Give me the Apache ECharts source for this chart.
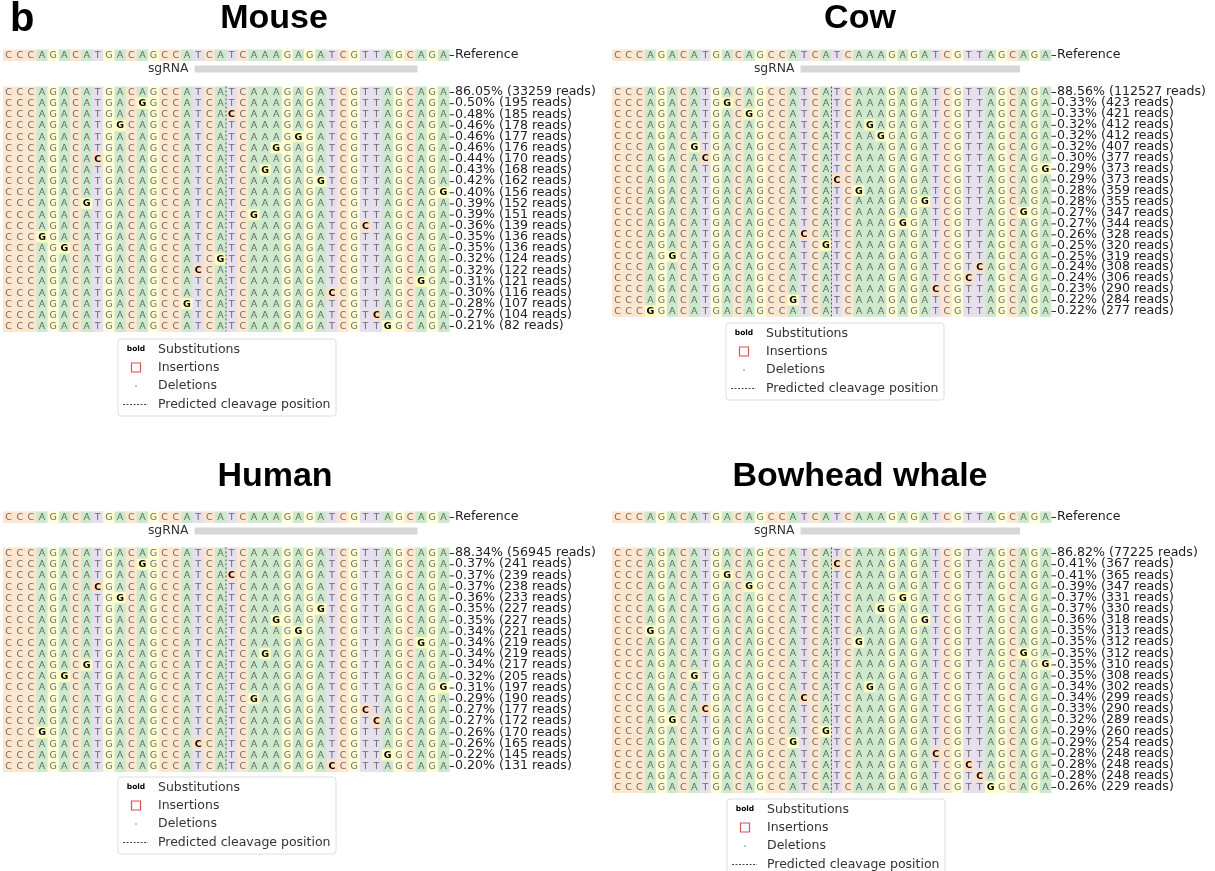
<!DOCTYPE html>
<html>
<head>
<meta charset="utf-8">
<script src="https://cdn.jsdelivr.net/npm/echarts@6/dist/echarts.min.js"></script>
<style>
  html, body { margin: 0; padding: 0; background: #fff; }
  #chart { width: 1215px; height: 871px; }
</style>
</head>
<body>
<div id="chart"></div>
<script>
// reference amplicon window, sgRNA span and predicted cut (in nt positions)
const REFERENCE = 'CCCAGACATGACAGCCATCATCAAAGAGATCGTTAGCAGA';
const SGRNA_RANGE = [17, 37];
const CUT_POS = 20;

// mouse
const mousePct = [86.05, 0.50, 0.48, 0.46, 0.46, 0.46, 0.44, 0.43, 0.42, 0.40, 0.39, 0.39, 0.36, 0.35, 0.35, 0.32, 0.32, 0.31, 0.30, 0.28, 0.27, 0.21];
const mouseReads = [33259, 195, 185, 178, 177, 176, 170, 168, 162, 156, 152, 151, 139, 136, 136, 124, 122, 121, 116, 107, 104, 82];
const mouseSubs = [null, [12, 'G'], [20, 'C'], [10, 'G'], [26, 'G'], [24, 'G'], [8, 'C'], [23, 'G'], [28, 'G'], [39, 'G'], [7, 'G'],
  [22, 'G'], [32, 'C'], [3, 'G'], [5, 'G'], [19, 'G'], [17, 'C'], [37, 'G'], [29, 'C'], [16, 'G'], [33, 'C'], [34, 'G']];

// cow
const cowPct = [88.56, 0.33, 0.33, 0.32, 0.32, 0.32, 0.30, 0.29, 0.29, 0.28, 0.28, 0.27, 0.27, 0.26, 0.25, 0.25, 0.24, 0.24, 0.23, 0.22, 0.22];
const cowReads = [112527, 423, 421, 412, 412, 407, 377, 373, 373, 359, 355, 347, 344, 328, 320, 319, 308, 306, 290, 284, 277];
const cowSubs = [null, [10, 'G'], [12, 'G'], [23, 'G'], [24, 'G'], [7, 'G'], [8, 'C'], [39, 'G'], [20, 'C'], [22, 'G'], [28, 'G'],
  [37, 'G'], [26, 'G'], [17, 'C'], [19, 'G'], [5, 'G'], [33, 'C'], [32, 'C'], [29, 'C'], [16, 'G'], [3, 'G']];

// human
const humanPct = [88.34, 0.37, 0.37, 0.37, 0.36, 0.35, 0.35, 0.34, 0.34, 0.34, 0.34, 0.32, 0.31, 0.29, 0.27, 0.27, 0.26, 0.26, 0.22, 0.20];
const humanReads = [56945, 241, 239, 238, 233, 227, 227, 221, 219, 219, 217, 205, 197, 190, 177, 172, 170, 165, 145, 131];
const humanSubs = [null, [12, 'G'], [20, 'C'], [8, 'C'], [10, 'G'], [28, 'G'], [24, 'G'], [26, 'G'], [37, 'G'], [23, 'G'], [7, 'G'],
  [5, 'G'], [39, 'G'], [22, 'G'], [32, 'C'], [33, 'C'], [3, 'G'], [17, 'C'], [34, 'G'], [29, 'C']];

// bowhead whale
const whalePct = [86.82, 0.41, 0.41, 0.39, 0.37, 0.37, 0.36, 0.35, 0.35, 0.35, 0.35, 0.35, 0.34, 0.34, 0.33, 0.32, 0.29, 0.29, 0.28, 0.28, 0.28, 0.26];
const whaleReads = [77225, 367, 365, 347, 331, 330, 318, 313, 312, 312, 310, 308, 302, 299, 290, 289, 260, 254, 248, 248, 248, 229];
const whaleSubs = [null, [20, 'C'], [10, 'G'], [12, 'G'], [26, 'G'], [24, 'G'], [28, 'G'], [3, 'G'], [22, 'G'], [37, 'G'], [39, 'G'],
  [7, 'G'], [23, 'G'], [17, 'C'], [8, 'C'], [5, 'G'], [19, 'G'], [16, 'G'], [29, 'C'], [32, 'C'], [33, 'C'], [34, 'G']];

const BASE_COLORS = { A: '#cce9cc', T: '#e5dfee', C: '#fee6ce', G: '#ffffd6' };
const SUB_COLORS = { A: '#bfe3bf', T: '#ddd5ea', C: '#fedfc2', G: '#ffffc2' };
const FONT = '"DejaVu Sans", "Noto Sans", sans-serif';

// layout of the 4 panels
const panels = [
  { title: 'Mouse', pct: mousePct, reads: mouseReads, subs: mouseSubs, left: 3, right: 449,
    refY: 55, sgY: 69, rowFirst: 92, rowLast: 326, titleX: 274, titleTop: 2, legend: [118, 339] },
  { title: 'Cow', pct: cowPct, reads: cowReads, subs: cowSubs, left: 612, right: 1051,
    refY: 55, sgY: 69, rowFirst: 92, rowLast: 311, titleX: 860, titleTop: 2, legend: [726, 323] },
  { title: 'Human', pct: humanPct, reads: humanReads, subs: humanSubs, left: 3, right: 449,
    refY: 517, sgY: 531, rowFirst: 553, rowLast: 766, titleX: 275, titleTop: 460, legend: [118, 777] },
  { title: 'Bowhead whale', pct: whalePct, reads: whaleReads, subs: whaleSubs, left: 612, right: 1051,
    refY: 517, sgY: 531, rowFirst: 553, rowLast: 787, titleX: 860, titleTop: 460, legend: [727, 799] }
];

const chart = echarts.init(document.getElementById('chart'), null, { renderer: 'canvas' });

const grids = [];
const xAxes = [];
const yAxes = [];
const series = [];
const graphics = [];
const titles = [{
  text: 'b', left: 10, top: 0, padding: 0,
  textStyle: { fontSize: 40, fontWeight: 'bold', fontFamily: '"Liberation Sans", Arial, sans-serif', color: '#000' }
}];

function rightAxis(gridIndex, labels) {
  return {
    type: 'category', gridIndex: gridIndex, position: 'right', inverse: true, data: labels,
    axisLine: { show: false },
    axisTick: { show: false },
    axisLabel: { interval: 0, margin: 6, fontSize: 12.6, fontFamily: FONT, color: '#222' },
    splitLine: { show: false }
  };
}

// small "-" tick at the right end of every row, like matplotlib's right ticks
function tickSeries(g, n) {
  const rows = [];
  for (let r = 0; r < n; r++) rows.push([REFERENCE.length, r]);
  return {
    type: 'custom', xAxisIndex: g, yAxisIndex: g, silent: true, z: 6,
    data: rows, encode: { x: 0, y: 1 },
    renderItem: function (params, api) {
      const p = api.coord([api.value(0), api.value(1)]);
      return { type: 'line', shape: { x1: p[0] + 0.5, y1: p[1] + 0.5, x2: p[0] + 5, y2: p[1] + 0.5 },
        style: { stroke: '#333', lineWidth: 1 } };
    }
  };
}

function cellRenderer(cells) {
  return function (params, api) {
    const c = cells[params.dataIndex];
    const p = api.coord([c.col, c.row]);
    const w = api.size([1, 0])[0];
    const h = api.size([0, 1])[1];
    return {
      type: 'group',
      children: [
        { type: 'rect', shape: { x: p[0], y: p[1] - h / 2, width: w + 0.4, height: h + 0.4 },
          style: { fill: c.bold ? SUB_COLORS[c.base] : BASE_COLORS[c.base] } },
        { type: 'text', x: p[0] + w / 2, y: p[1] + 0.5,
          style: { text: c.base, fill: c.bold ? '#000' : '#6a6a6a', fontFamily: FONT, fontSize: 9.5,
            fontWeight: c.bold ? 'bold' : 'normal', align: 'center', verticalAlign: 'middle' } }
      ]
    };
  };
}

function addLegend(x, y) {
  const w = 218, h = 77;
  const sx = x + 18, tx = x + 40;
  const rows = [y + 10.5, y + 28.5, y + 47, y + 65.5];
  const txt = (t, yy) => ({ type: 'text', x: tx, y: yy, z: 11,
    style: { text: t, fill: '#333', fontFamily: FONT, fontSize: 12.5, align: 'left', verticalAlign: 'middle' } });
  graphics.push(
    { type: 'rect', shape: { x: x, y: y, width: w, height: h, r: 3 }, style: { fill: '#fff', stroke: '#dedede', lineWidth: 1 }, z: 10 },
    { type: 'text', x: sx, y: rows[0], z: 11,
      style: { text: 'bold', fill: '#000', fontFamily: FONT, fontSize: 7.5, fontWeight: 'bold', align: 'center', verticalAlign: 'middle' } },
    txt('Substitutions', rows[0]),
    { type: 'rect', z: 11, shape: { x: sx - 4.5, y: rows[1] - 4.5, width: 9, height: 9 }, style: { fill: 'none', stroke: '#d9534f', lineWidth: 1.2 } },
    txt('Insertions', rows[1]),
    { type: 'circle', z: 11, shape: { cx: sx, cy: rows[2], r: 0.8 }, style: { fill: '#777' } },
    txt('Deletions', rows[2]),
    { type: 'line', z: 11, shape: { x1: x + 5, y1: rows[3], x2: x + 30, y2: rows[3] }, style: { stroke: '#444', lineWidth: 1, lineDash: [2, 1.5] } },
    txt('Predicted cleavage position', rows[3])
  );
}

panels.forEach(function (pn) {
  const n = pn.pct.length;
  const pitchY = (pn.rowLast - pn.rowFirst) / (n - 1);
  const width = pn.right - pn.left;
  const gRef = grids.length, gSg = gRef + 1, gData = gRef + 2;

  grids.push(
    { left: pn.left, top: pn.refY - pitchY / 2, width: width, height: pitchY },
    { left: pn.left, top: pn.sgY - 3.5, width: width, height: 7 },
    { left: pn.left, top: pn.rowFirst - pitchY / 2, width: width, height: n * pitchY }
  );
  [gRef, gSg, gData].forEach(function (g) {
    xAxes.push({ type: 'value', gridIndex: g, min: 0, max: REFERENCE.length, show: false });
  });
  yAxes.push(rightAxis(gRef, ['Reference']));
  yAxes.push({ type: 'category', gridIndex: gSg, data: ['sgRNA'], show: false });
  const labels = pn.pct.map(function (p, i) { return p.toFixed(2) + '% (' + pn.reads[i] + ' reads)'; });
  yAxes.push(rightAxis(gData, labels));

  // reference row
  const refCells = REFERENCE.split('').map(function (b, i) { return { col: i, row: 0, base: b, bold: false }; });
  series.push({
    type: 'custom', xAxisIndex: gRef, yAxisIndex: gRef, renderItem: cellRenderer(refCells),
    data: refCells.map(function (c) { return [c.col, c.row]; }), encode: { x: 0, y: 1 }, silent: true
  });
  series.push(tickSeries(gRef, 1));

  // sgRNA bar
  series.push({
    type: 'custom', xAxisIndex: gSg, yAxisIndex: gSg, silent: true,
    data: [[SGRNA_RANGE[0], 0, SGRNA_RANGE[1]]], encode: { x: [0, 2], y: 1 },
    renderItem: function (params, api) {
      const a = api.coord([api.value(0), 0]);
      const b = api.coord([api.value(2), 0]);
      const h = api.size([0, 1])[1];
      return {
        type: 'group', children: [
          { type: 'rect', shape: { x: a[0] + 2, y: a[1] - h / 2, width: b[0] - a[0], height: h }, style: { fill: '#d6d6d6' } },
          { type: 'text', x: a[0] - 4, y: a[1], style: { text: 'sgRNA', fill: '#333', fontFamily: FONT, fontSize: 12.4,
            align: 'right', verticalAlign: 'middle' } }
        ]
      };
    }
  });

  // allele rows
  const cells = [];
  pn.subs.forEach(function (s, r) {
    REFERENCE.split('').forEach(function (b, i) {
      const isSub = s && s[0] === i;
      cells.push({ col: i, row: r, base: isSub ? s[1] : b, bold: !!isSub });
    });
  });
  series.push({
    type: 'custom', xAxisIndex: gData, yAxisIndex: gData, renderItem: cellRenderer(cells),
    data: cells.map(function (c) { return [c.col, c.row]; }), encode: { x: 0, y: 1 }, silent: true
  });
  series.push(tickSeries(gData, n));

  // predicted cleavage position
  series.push({
    type: 'custom', xAxisIndex: gData, yAxisIndex: gData, silent: true, z: 5,
    data: [[CUT_POS, 0, n - 1]], encode: { x: 0, y: [1, 2] },
    renderItem: function (params, api) {
      const top = api.coord([api.value(0), 0]);
      const bot = api.coord([api.value(0), api.value(2)]);
      const h = api.size([0, 1])[1];
      return { type: 'line', shape: { x1: top[0], y1: top[1] - h / 2, x2: bot[0], y2: bot[1] + h / 2 },
        style: { stroke: '#555', lineWidth: 1, lineDash: [2, 2] } };
    }
  });

  titles.push({
    text: pn.title, left: pn.titleX, top: pn.titleTop, textAlign: 'center', padding: 0,
    textStyle: { fontSize: 34, fontWeight: 'bold', fontFamily: '"Liberation Sans", Arial, sans-serif', color: '#000' }
  });
  addLegend(pn.legend[0], pn.legend[1]);
});

chart.setOption({
  animation: false,
  backgroundColor: '#fff',
  title: titles,
  grid: grids,
  xAxis: xAxes,
  yAxis: yAxes,
  series: series,
  graphic: { elements: graphics }
});
</script>
</body>
</html>
